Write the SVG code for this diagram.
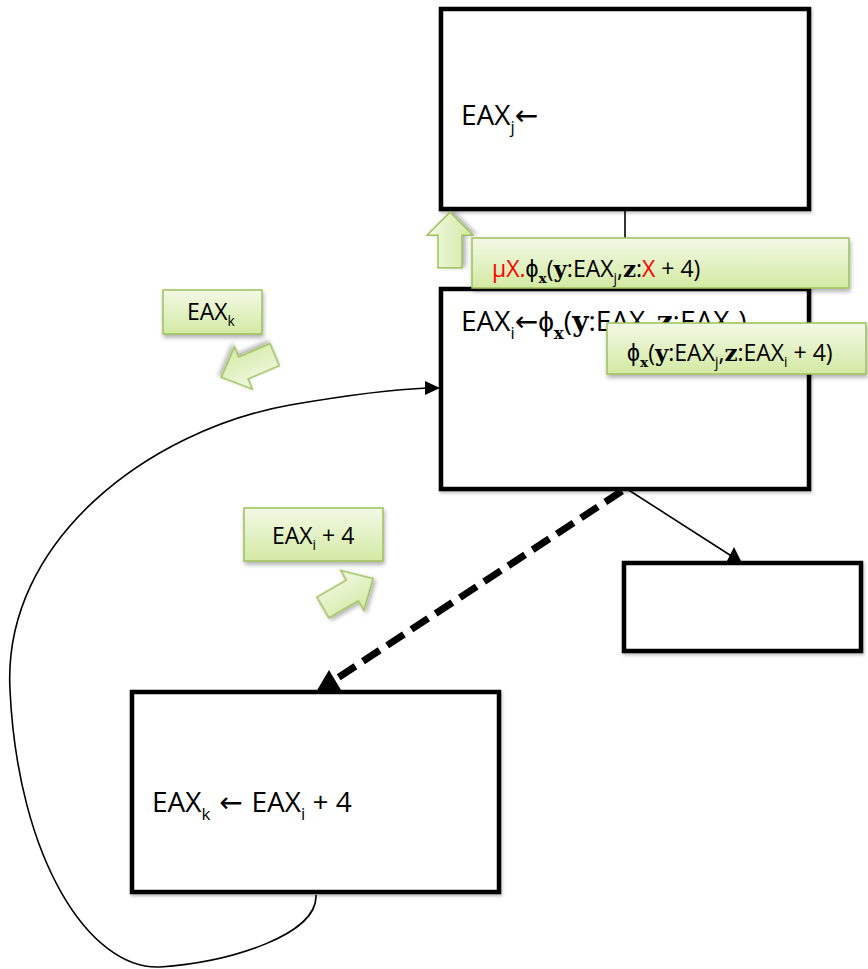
<svg xmlns="http://www.w3.org/2000/svg" width="868" height="969" viewBox="0 0 868 969">
  <defs>
    <linearGradient id="greenFill" x1="0" y1="0" x2="0" y2="1">
      <stop offset="0" stop-color="#f3f9e6"/>
      <stop offset="1" stop-color="#d3eaa3"/>
    </linearGradient>
    <filter id="shadow" x="-10%" y="-20%" width="130%" height="160%">
      <feDropShadow dx="1" dy="3" stdDeviation="2" flood-color="#000" flood-opacity="0.3"/>
    </filter>
    <filter id="boxShadow" x="-5%" y="-5%" width="115%" height="115%">
      <feDropShadow dx="1" dy="2" stdDeviation="1.5" flood-color="#000" flood-opacity="0.25"/>
    </filter>
    <!-- block arrow pointing along +x, centred on the origin -->
    <path id="blockArrow" d="M-29,-12 L5,-12 L5,-23 L29,0 L5,23 L5,12 L-29,12 Z"/>
  </defs>
  <style>
    .box { fill: #fff; stroke: #000; stroke-width: 4.5; filter: url(#boxShadow); }
    .callout { fill: url(#greenFill); stroke: #9dc15a; stroke-width: 1.5; filter: url(#shadow); }
    .garrow { fill: url(#greenFill); stroke: #9dc15a; stroke-width: 1.5; filter: url(#shadow); }
    .big { font-family: "Open Sans", "Liberation Sans", sans-serif; font-size: 28px; fill: #000; }
    .small { font-family: "Open Sans", "Liberation Sans", sans-serif; font-size: 23px; fill: #000; }
    .sub { font-size: 0.6em; }
    .arr { font-family: "DejaVu Sans", sans-serif; }
    .mb { font-family: "DejaVu Serif", "Liberation Serif", serif; font-weight: bold; }
    .red { fill: #ff0000; }
    .thin { fill: none; stroke: #000; stroke-width: 1.6; }
    .dash { fill: none; stroke: #000; stroke-width: 7; stroke-dasharray: 20 9; }
  </style>

  <!-- connectors -->
  <g id="connectors">
    <line class="thin" x1="625" y1="209" x2="625" y2="287"/>
    <line class="thin" x1="627" y1="489" x2="733" y2="557"/>
    <polygon points="727,561 741,561 734,547" fill="#000"/>
    <line class="dash" x1="622" y1="491" x2="336" y2="679"/>
    <polygon points="316,692 341,690 329,670" fill="#000"/>
    <path class="thin" d="M316,895 C318,935 230,962 160,967 C90,970 18,860 10,690 C2,540 150,430 290,405 C360,393 400,389 428,388"/>
    <polygon points="440,388 425,381 425,395" fill="#000"/>
  </g>

  <!-- top block -->
  <g id="nodeTop">
    <rect class="box" x="441" y="9" width="368" height="200"/>
    <text class="big" x="461" y="125">EAX<tspan class="sub" dy="8">j</tspan><tspan class="arr" dy="-8">←</tspan></text>
  </g>

  <!-- middle block -->
  <g id="nodeMiddle">
    <rect class="box" x="441" y="289" width="368" height="200"/>
    <text class="big" x="461" y="331">EAX<tspan class="sub" dy="8">i</tspan><tspan class="arr" dy="-8">←</tspan>ϕ<tspan class="sub mb" dy="8">x</tspan><tspan dy="-8">(</tspan><tspan class="mb">y</tspan>:EAX<tspan class="sub" dy="8">j</tspan><tspan dy="-8">,</tspan><tspan class="mb">z</tspan>:EAX<tspan class="sub" dy="8">k</tspan><tspan dy="-8">)</tspan></text>
  </g>

  <!-- right exit block -->
  <g id="nodeRight">
    <rect class="box" x="624" y="563" width="237" height="88"/>
  </g>

  <!-- bottom-left block -->
  <g id="nodeBottom">
    <rect class="box" x="132" y="692" width="367" height="200"/>
    <text class="big" x="152" y="812">EAX<tspan class="sub" dy="8">k</tspan><tspan class="arr" dy="-8"> ← </tspan>EAX<tspan class="sub" dy="8">i</tspan><tspan dy="-8"> + 4</tspan></text>
  </g>

  <!-- annotations -->
  <g id="annotUp">
    <use href="#blockArrow" class="garrow" transform="translate(450,240) rotate(-90) scale(0.96,1)"/>
  </g>

  <g id="annotMu">
    <rect class="callout" x="472" y="238" width="377" height="50"/>
    <text class="small" x="492" y="277"><tspan class="red">μX.</tspan>ϕ<tspan class="sub mb" dy="6">x</tspan><tspan dy="-6">(</tspan><tspan class="mb">y</tspan>:EAX<tspan class="sub" dy="6">j</tspan><tspan dy="-6">,</tspan><tspan class="mb">z</tspan>:<tspan class="red">X</tspan> + 4)</text>
  </g>

  <g id="annotPhi">
    <rect class="callout" x="607" y="323" width="259" height="51"/>
    <text class="small" x="627" y="361">ϕ<tspan class="sub mb" dy="6">x</tspan><tspan dy="-6">(</tspan><tspan class="mb">y</tspan>:EAX<tspan class="sub" dy="6">j</tspan><tspan dy="-6">,</tspan><tspan class="mb">z</tspan>:EAX<tspan class="sub" dy="6">i</tspan><tspan dy="-6"> + 4)</tspan></text>
  </g>

  <g id="annotK">
    <rect class="callout" x="163" y="290" width="99" height="44"/>
    <text class="small" x="187" y="320">EAX<tspan class="sub" dy="6">k</tspan></text>
    <use href="#blockArrow" class="garrow" transform="translate(248,366) rotate(157)"/>
  </g>

  <g id="annotI">
    <rect class="callout" x="244" y="508" width="139" height="53"/>
    <text class="small" x="272" y="544">EAX<tspan class="sub" dy="6">i</tspan><tspan dy="-6"> + 4</tspan></text>
    <use href="#blockArrow" class="garrow" transform="translate(348,593) rotate(-30)"/>
  </g>
</svg>
